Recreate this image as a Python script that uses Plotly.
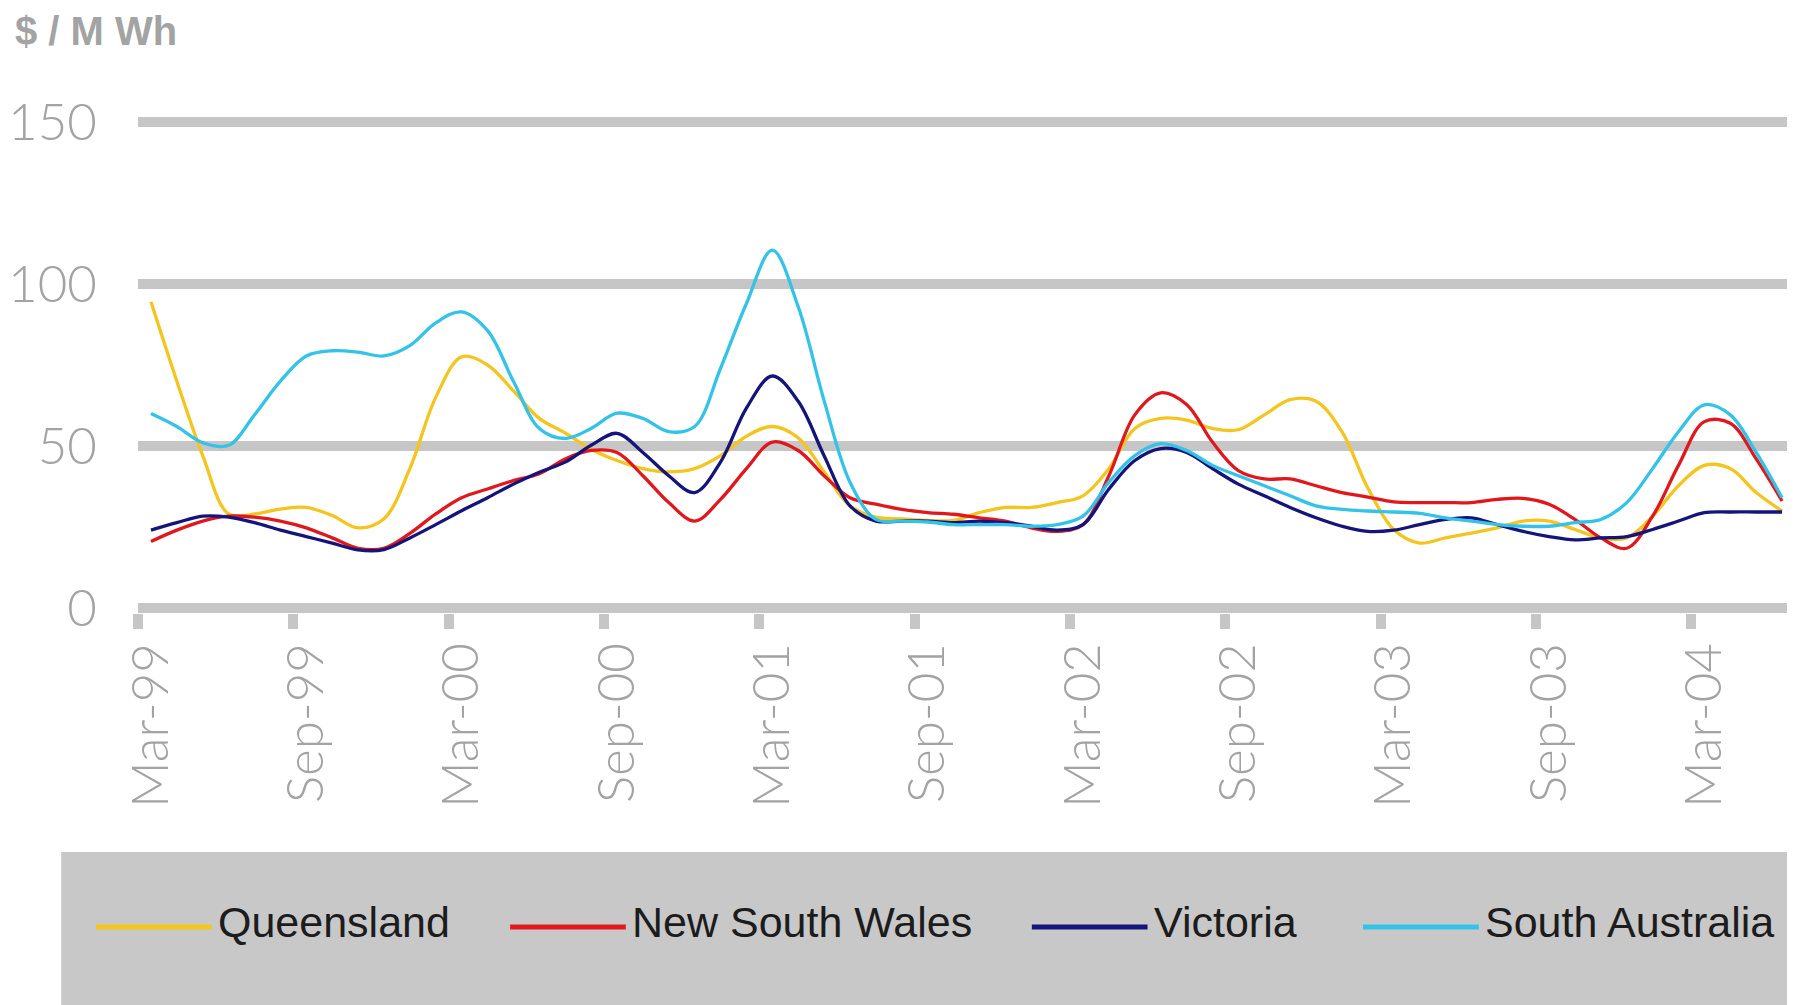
import pandas as pd
import plotly.graph_objects as go

# ---- data (monthly, Mar-99 .. Jun-04), $/MWh ----
months = list(pd.date_range("1999-03-01", periods=64, freq="MS").strftime("%b-%y"))

queensland = [94.5, 70, 47, 29, 29, 30.5, 31, 28.5, 24.7, 27.5,
              43, 65, 77.5, 75, 67, 58.5, 54, 49, 45.5, 43,
              42, 43, 47, 53, 56, 52.5, 42, 31.5, 28, 27.5,
              27, 27, 29.4, 31, 31, 32.5, 34.6, 43, 55.4, 58.5,
              58, 55.4, 55, 59.6, 64.3, 63.8, 54.4, 37, 24.2, 20,
              21.6, 23.1, 24.7, 26.8, 26.8, 24.2, 21.6, 21.6, 28.3, 37.7,
              44, 43, 35.6, 29.9]

new_south_wales = [20.5, 24, 26.8, 28.3, 28, 26.8, 24.7, 21.6, 18.4, 18.4,
                   23, 29, 34, 36.7, 39.3, 41.4, 46, 48.6, 48, 40.8,
                   32.5, 26.8, 33.5, 43, 51.2, 48.6, 40.8, 34, 32, 30.4,
                   29.4, 28.9, 27.8, 26.8, 24.7, 23.6, 25.7, 40.8, 59.6, 66.4,
                   62.8, 51.2, 42.4, 39.8, 39.8, 37.7, 35.6, 34.2, 32.7, 32.5,
                   32.5, 32.5, 33.5, 33.8, 32, 27.3, 21.6, 18.4, 28.3, 44,
                   57.5, 57, 46, 33]

victoria = [24, 26.3, 28.3, 28, 26.3, 24, 22, 20, 17.9, 18,
            21.6, 25.7, 30, 34, 38.2, 41.9, 45, 50.2, 53.9, 48,
            40.8, 35.6, 45, 61.7, 71.6, 63.8, 47, 31.5, 26.8, 26.8,
            26.8, 26.3, 26.8, 26.3, 25.2, 24, 25.7, 36.7, 45.5, 49.2,
            48, 43, 38.2, 34.6, 31, 27.8, 25.2, 23.6, 24, 25.7,
            27.3, 27.8, 25.7, 23.6, 22, 21, 21.6, 22, 24.2, 26.8,
            29.4, 29.6, 29.6, 29.6]

south_australia = [60, 56, 51, 50.2, 59.6, 70, 77.8, 79.4, 79, 77.8,
                   81, 88, 91.4, 85.6, 70, 55.4, 52.3, 55.4, 60.1, 58.5,
                   54.4, 56, 74, 94, 110.5, 93, 64, 38.8, 27.3, 26.8,
                   26.5, 25.7, 25.7, 25.7, 25.2, 25.7, 28.3, 38.8, 47, 50.7,
                   48.6, 44, 40.8, 37.7, 34.6, 31.5, 30.4, 29.9, 29.6, 29.2,
                   27.8, 26.8, 25.7, 25.2, 25.2, 26.3, 27.3, 32.5, 43, 54.4,
                   62.7, 59.6, 48, 34]

series_names = ["Queensland", "New South Wales", "Victoria", "South Australia"]
series_values = [queensland, new_south_wales, victoria, south_australia]
series_colors = ["#F4C51F", "#E0181E", "#14147A", "#34C3E8"]

y_ticks = [0, 50, 100, 150]
y_title = "$ / M Wh"

# ---- layout geometry (pixels) ----
OFF = 8  # page body margin
W, H = 1795 - OFF, 1005 - OFF
L, R, T, B = 126, 0, 109, 392
PW, PH = W - L - R, H - T - B


def px_x(X):
    """reference-screen x pixel -> paper x"""
    return (X - OFF - L) / PW


def px_y(Y):
    """reference-screen y pixel -> paper y"""
    return (H - B - (Y - OFF)) / PH


GRID = "#c6c6c6"
TICKFONT = dict(family="Lato, Open Sans, sans-serif", size=51, color="#a3a3a3", weight=300)

fig = go.Figure()
for name, vals, col in zip(series_names, series_values, series_colors):
    fig.add_trace(go.Scatter(
        x=months, y=vals, name=name, mode="lines",
        line=dict(color=col, width=3.3, shape="spline", smoothing=1.0),
        showlegend=False,
    ))

fig.update_layout(
    width=W, height=H,
    margin=dict(l=L, r=R, t=T, b=B, pad=0),
    paper_bgcolor="white", plot_bgcolor="white",
    xaxis=dict(
        type="category", range=[-0.5, len(months) - 0.5],
        tickmode="linear", tick0=0, dtick=6, tickson="boundaries",
        ticks="outside", ticklen=15, tickwidth=10, tickcolor=GRID,
        tickangle=-90, tickfont=TICKFONT, ticklabelstandoff=19,
        showgrid=False, showline=False, zeroline=False,
    ),
    yaxis=dict(
        range=[-1.6, 151.6], tickmode="array", tickvals=y_ticks,
        showgrid=True, gridcolor=GRID, gridwidth=10,
        zeroline=False, showline=False,
        ticks="outside", ticklen=30, tickcolor="rgba(0,0,0,0)",
        tickfont=TICKFONT,
    ),
)

# axis unit title
fig.add_annotation(
    text=y_title, xref="paper", yref="paper",
    x=px_x(9), y=px_y(7), xanchor="left", yanchor="top", showarrow=False,
    font=dict(family="Liberation Sans, Arial, sans-serif", size=40, color="#a3a3a3", weight="bold"),
)

# legend panel
fig.add_shape(type="rect", xref="paper", yref="paper",
              x0=px_x(57), x1=px_x(1800), y0=px_y(852), y1=px_y(1010),
              fillcolor="#c8c8c8", line=dict(width=0), layer="below")

legend_line_x = [92, 507, 1030, 1362]
legend_y = 927
for name, col, lx in zip(series_names, series_colors, legend_line_x):
    fig.add_shape(type="line", xref="paper", yref="paper",
                  x0=px_x(lx), x1=px_x(lx + 116), y0=px_y(legend_y), y1=px_y(legend_y),
                  line=dict(color=col, width=5))
    fig.add_annotation(
        text=name, xref="paper", yref="paper",
        x=px_x(lx + 120), y=px_y(legend_y - 5), xanchor="left", yanchor="middle",
        showarrow=False,
        font=dict(family="Liberation Sans, Arial, sans-serif", size=43, color="#1c1c1c"),
    )

fig.write_html("out.html")
